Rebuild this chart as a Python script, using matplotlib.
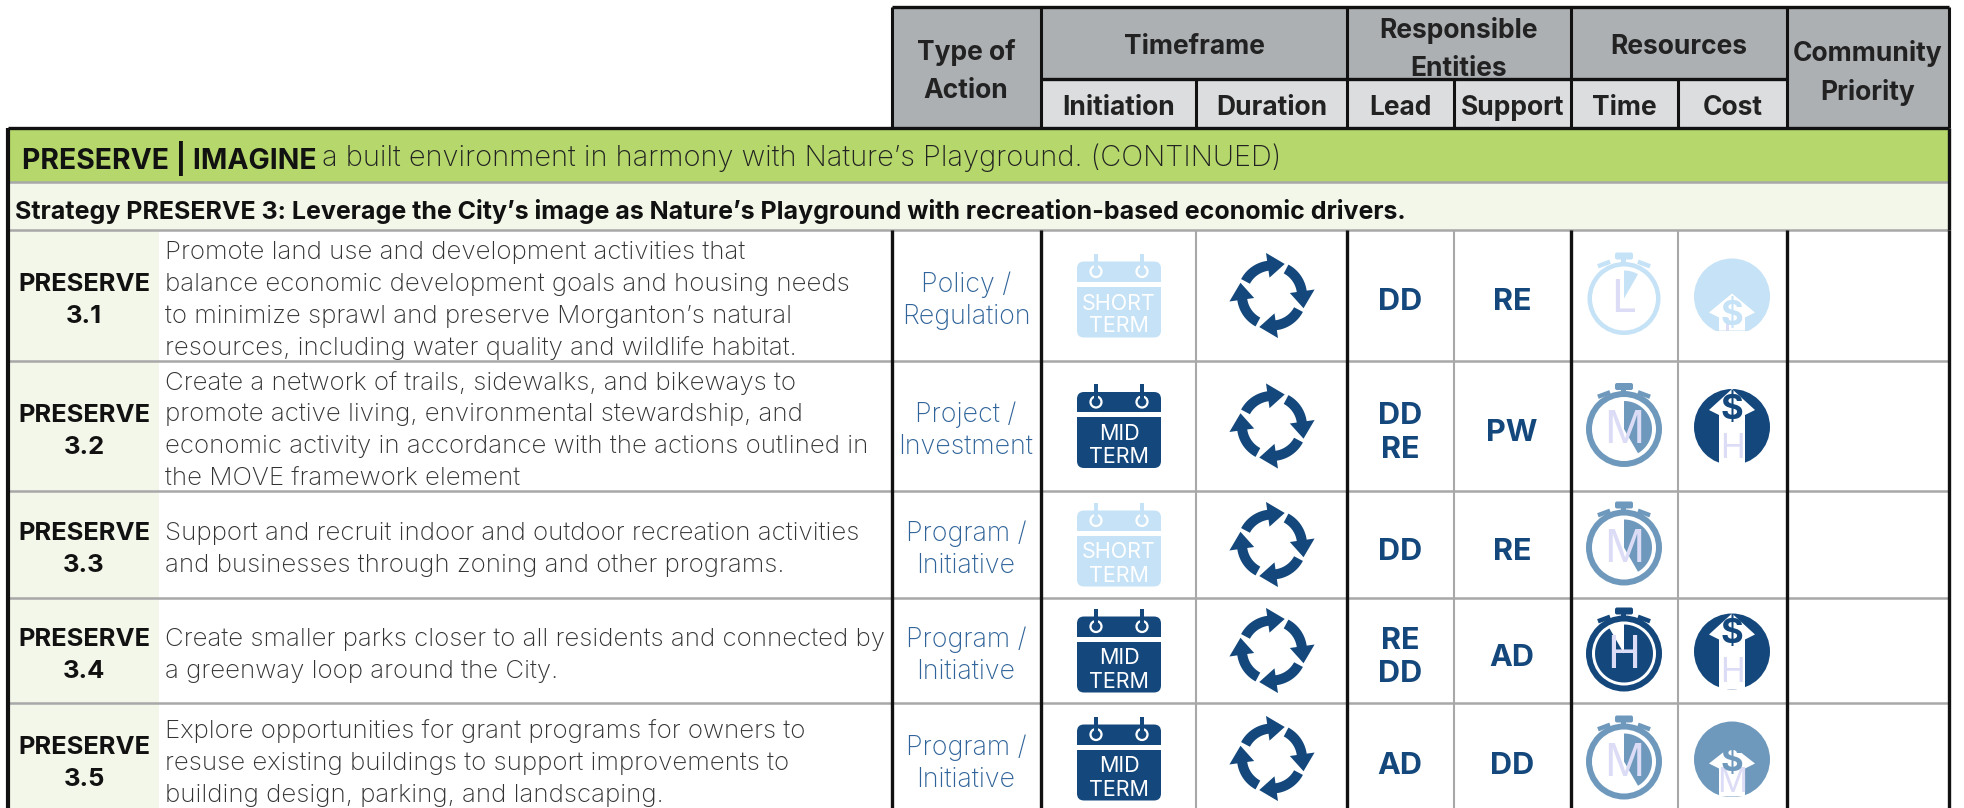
import numpy as np
import matplotlib
matplotlib.use('Agg')
import matplotlib.pyplot as plt
from matplotlib.patches import Rectangle, FancyBboxPatch, Circle, Polygon

# table content
group_titles = ['Timeframe', 'Responsible\nEntities', 'Resources']
sub_titles = ['Initiation', 'Duration', 'Lead', 'Support', 'Time', 'Cost']
banner_bold = 'PRESERVE | IMAGINE'
banner_text = 'a built environment in harmony with Nature\u2019s Playground. (CONTINUED)'
strategy = 'Strategy PRESERVE 3: Leverage the City\u2019s image as Nature\u2019s Playground with recreation-based economic drivers.'

ids = ['3.1', '3.2', '3.3', '3.4', '3.5']
descs = [
    ['Promote land use and development activities that',
     'balance economic development goals and housing needs',
     'to minimize sprawl and preserve Morganton\u2019s natural',
     'resources, including water quality and wildlife habitat.'],
    ['Create a network of trails, sidewalks, and bikeways to',
     'promote active living, environmental stewardship, and',
     'economic activity in accordance with the actions outlined in',
     'the MOVE framework element'],
    ['Support and recruit indoor and outdoor recreation activities',
     'and businesses through zoning and other programs.'],
    ['Create smaller parks closer to all residents and connected by',
     'a greenway loop around the City.'],
    ['Explore opportunities for grant programs for owners to',
     'resuse existing buildings to support improvements to',
     'building design, parking, and landscaping.'],
]
actions = ['Policy /\nRegulation', 'Project /\nInvestment', 'Program /\nInitiative',
           'Program /\nInitiative', 'Program /\nInitiative']
initiation = ['SHORT', 'MID', 'SHORT', 'MID', 'MID']
lead = ['DD', 'DD\nRE', 'DD', 'RE\nDD', 'AD']
support = ['RE', 'PW', 'RE', 'AD', 'DD']
time_level = ['L', 'M', 'M', 'H', 'M']
cost_level = ['L', 'H', '', 'H', 'M']

# layout in pixels
row_y = [230, 361, 491, 598, 703, 814]
col_x = [892, 1041, 1196, 1347, 1454, 1571, 1678, 1787, 1949]
BLACK = '#111111'
GREY = '#a8a8a8'
DARK = '#14487c'
MID = '#6f99bc'
LIGHT = '#c5e2f6'
LETTER = '#dcdcf6'
LEVEL_COL = {'L': LIGHT, 'M': MID, 'H': DARK}
HEAD = '#222222'

plt.rcParams['font.family'] = ['Inter', 'DejaVu Sans']

fig = plt.figure(figsize=(19.65, 8.08), dpi=100)
ax = fig.add_axes([0, 0, 1, 1])
ax.set_xlim(0, 1965)
ax.set_ylim(808, 0)
ax.axis('off')


def rect(x0, y0, x1, y1, color, z=1):
    ax.add_patch(Rectangle((x0, y0), x1 - x0, y1 - y0, fc=color, ec='none', zorder=z))


def hline(x0, x1, y, color=BLACK, lw=2.2, z=3):
    ax.plot([x0, x1], [y, y], color=color, lw=lw, zorder=z, solid_capstyle='butt')


def vline(x, y0, y1, color=BLACK, lw=2.2, z=3):
    ax.plot([x, x], [y0, y1], color=color, lw=lw, zorder=z, solid_capstyle='butt')


def polar(cx, cy, r, deg):
    a = np.radians(deg)
    return cx + r * np.cos(a), cy - r * np.sin(a)


def sector(cx, cy, r, a0, a1, color, z=5):
    t = np.linspace(a0, a1, 60)
    pts = [(cx, cy)] + [polar(cx, cy, r, d) for d in t]
    ax.add_patch(Polygon(pts, fc=color, ec='none', zorder=z))


def calendar(cx, cy, kind):
    color = LIGHT if kind == 'SHORT' else DARK
    ax.add_patch(FancyBboxPatch((cx - 36, cy - 28), 72, 64, boxstyle='round,pad=6,rounding_size=7',
                                fc=color, ec='none', zorder=5))
    rect(cx - 42, cy - 14, cx + 42, cy - 9, 'white', 6)
    for dx in (-23, 23):
        ax.add_patch(Circle((cx + dx, cy - 24), 5.5, fc='none', ec='white', lw=1.6, zorder=6))
        rect(cx + dx - 2, cy - 42, cx + dx + 2, cy - 23, color, 7)
    ax.text(cx, cy + 8, kind, color='white', fontsize=15.5, ha='center', va='center', zorder=8)
    ax.text(cx, cy + 31, 'TERM', color='white', fontsize=15.5, ha='center', va='center', zorder=8)


def cycle(cx, cy):
    for rot in (0, -90, -180, -270):
        t = np.linspace(152, 96, 30) + rot
        outer = [polar(cx, cy, 35, d) for d in t]
        inner = [polar(cx, cy, 25, d) for d in t[::-1]]
        ax.add_patch(Polygon(outer + inner, fc=DARK, ec='none', zorder=5))
        head = [polar(cx, cy, 43, 98 + rot), polar(cx, cy, 34, 68 + rot), polar(cx, cy, 18, 98 + rot)]
        ax.add_patch(Polygon(head, fc=DARK, ec='none', zorder=5))


def stopwatch(cx, cy, level):
    color = LEVEL_COL[level]
    r = 36.5 if level == 'L' else 38
    width = 4.5 if level == 'L' else 6
    ax.add_patch(Circle((cx, cy), r - width / 2, fc='white', ec=color, lw=width * 0.72, zorder=5))
    ax.add_patch(FancyBboxPatch((cx - 7, cy - 44), 14, 3, boxstyle='round,pad=2,rounding_size=2',
                                fc=color, ec='none', zorder=5))
    rect(cx - 2.5, cy - 40, cx + 2.5, cy - r + 2, color, 5)
    for side in (-1, 1):
        ax.plot([cx + side * 16, cx + side * 24], [cy - 36, cy - 33], color=color, lw=3.2, zorder=5)
    if level == 'L':
        sector(cx, cy, 28, 90, 60, color, 6)
    elif level == 'M':
        sector(cx, cy, 28, 90, -60, color, 6)
    else:
        sector(cx, cy, 29, 90, -240, color, 6)
    ax.text(cx, cy + 2, level, color=LETTER, fontsize=32, ha='center', va='center', zorder=7)


def cost(cx, cy, level):
    color = LEVEL_COL[level]
    ax.add_patch(Circle((cx, cy), 38, fc=color, ec='none', zorder=5))
    # arrow sits higher for higher cost
    if level == 'H':
        tip, base, dollar_y, letter_y, bottom = cy - 38, cy - 17, cy - 17, cy + 22, cy + 38
    elif level == 'M':
        tip, base, dollar_y, letter_y, bottom = cy - 14, cy + 4, cy + 3, cy + 24, cy + 37
    else:
        tip, base, dollar_y, letter_y, bottom = cy - 3, cy + 16, cy + 19, cy + 28, cy + 34
    rect(cx - 40, bottom, cx + 40, cy + 40, 'white', 6)
    ax.add_patch(Polygon([(cx, tip), (cx + 23, base), (cx + 13, base + 5), (cx + 13, bottom),
                          (cx - 13, bottom), (cx - 13, base + 5), (cx - 23, base)],
                         fc='white', ec='none', zorder=6))
    # only the stem of the low cost letter shows, the white strip cuts the rest
    if level == 'L':
        rect(cx - 6, base + 5, cx - 3, bottom, LETTER, 6.5)
    else:
        ax.text(cx, letter_y, level, color=LETTER, fontsize=24, ha='center', va='center', zorder=7)
    ax.text(cx, dollar_y, '$', color=color, fontsize=25, fontweight='bold', ha='center', va='center', zorder=8)


# header fills
rect(col_x[0], 7, col_x[-1], 128, '#acb0b3')
rect(col_x[1], 79, col_x[7], 128, '#dcdddf')
rect(8, 128, col_x[-1], 182, '#b5d76c')
rect(8, 182, col_x[-1], 230, '#f3f7ea')
rect(8, 230, 159, 814, '#f3f7ea')

# header text
ax.text(966, 72, 'Type of\nAction', fontsize=19, fontweight='bold', ha='center', va='center', linespacing=1.6, color=HEAD)
ax.text(1194, 47, group_titles[0], fontsize=19, fontweight='bold', ha='center', va='center', color=HEAD)
ax.text(1459, 49, group_titles[1], fontsize=19, fontweight='bold', ha='center', va='center', linespacing=1.6, color=HEAD)
ax.text(1679, 47, group_titles[2], fontsize=19, fontweight='bold', ha='center', va='center', color=HEAD)
ax.text(1868, 73, 'Community\nPriority', fontsize=19, fontweight='bold', ha='center', va='center', linespacing=1.6, color=HEAD)
for i, s in enumerate(sub_titles):
    ax.text((col_x[i + 1] + col_x[i + 2]) / 2, 108, s, fontsize=19, fontweight='bold', ha='center', va='center', color=HEAD)

ax.text(22, 158, banner_bold, fontsize=20.4, fontweight='bold', va='center', color='#111111')
ax.text(322, 158, banner_text, fontsize=20.9, fontweight='light', va='center', color='#222222')
ax.text(15, 211, strategy, fontsize=18, fontweight='bold', va='center', color='#111111')

# body rows
for i in range(5):
    y0, y1 = row_y[i], row_y[i + 1]
    yc = (y0 + y1) / 2
    ax.text(84, yc + 5, 'PRESERVE\n' + ids[i], fontsize=18.4, fontweight='bold', ha='center', va='center',
            linespacing=1.5, color='#111111')
    n = len(descs[i])
    for j, line in enumerate(descs[i]):
        ax.text(165, yc + 5 + (j - (n - 1) / 2) * 32, line, fontsize=18.6, fontweight='light',
                va='center', color='#333333')
    ax.text(966, yc + 5, actions[i], fontsize=19.3, fontweight='light', ha='center', va='center',
            linespacing=1.3, color='#2f6399')
    calendar(1119, yc, initiation[i])
    cycle(1272, yc)
    ax.text(1400, yc + 7, lead[i], fontsize=22, fontweight='bold', ha='center', va='center', linespacing=1.25, color=DARK)
    ax.text(1512, yc + 7, support[i], fontsize=22, fontweight='bold', ha='center', va='center', color=DARK)
    stopwatch(1624, yc + 3, time_level[i])
    if cost_level[i]:
        cost(1732, yc + 1, cost_level[i])

# grid lines
for y in row_y[1:5]:
    hline(8, col_x[-1], y, GREY, 1.8, 2)
hline(8, col_x[-1], 182, GREY, 1.8, 2)
hline(8, col_x[-1], 230, GREY, 1.8, 2)
hline(col_x[0], col_x[-1], 7, BLACK, 2.4)
hline(8, col_x[-1], 128, BLACK, 2.4)
hline(col_x[1], col_x[7], 79, BLACK, 2.4)
for x in (col_x[0], col_x[1], col_x[3], col_x[5], col_x[7], col_x[8]):
    vline(x, 7, 128, BLACK, 2.2)
for x in (col_x[2], col_x[4], col_x[6]):
    vline(x, 79, 128, BLACK, 2.2)
for x in (col_x[0], col_x[1], col_x[3], col_x[5], col_x[7], col_x[8]):
    vline(x, 230, 808, BLACK, 2.4)
for x in (col_x[2], col_x[4], col_x[6]):
    vline(x, 230, 808, GREY, 1.5)
vline(8, 128, 808, BLACK, 3)
vline(col_x[8], 128, 230, BLACK, 2.4)

fig.savefig('out.png', dpi=100)
